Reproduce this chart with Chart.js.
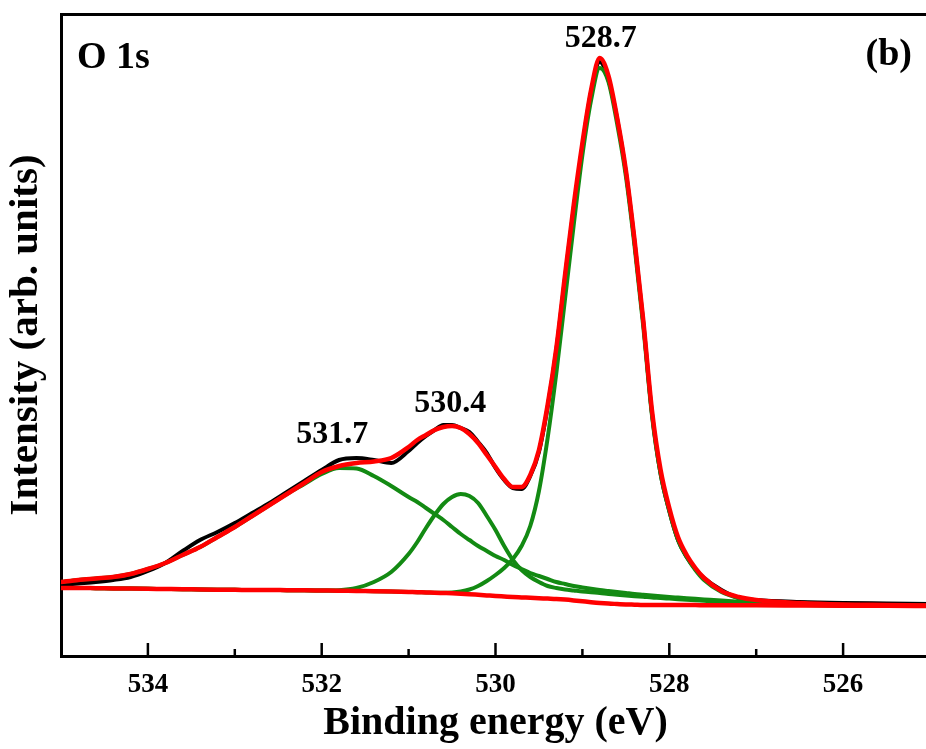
<!DOCTYPE html>
<html><head><meta charset="utf-8">
<script src="https://cdn.jsdelivr.net/npm/chart.js@4.4.1/dist/chart.umd.min.js"></script>
<style>html,body{margin:0;padding:0;background:#fff;overflow:hidden;width:926px;height:749px}canvas{display:block}</style>
</head><body><canvas id="c" width="932" height="749" style="width:932px;height:749px"></canvas>
<script>
// Binding energy grid (eV)
const energy = [535.0,534.8,534.6,534.4,534.2,534.0,533.8,533.6,533.4,533.2,533.0,532.8,532.6,532.4,532.2,532.0,531.8,531.6,531.4,531.2,531.0,530.9,530.8,530.7,530.6,530.5,530.4,530.3,530.2,530.1,530.0,529.9,529.8,529.7,529.6,529.5,529.4,529.3,529.2,529.1,529.0,528.9,528.8,528.7,528.6,528.5,528.4,528.3,528.2,528.1,528.0,527.9,527.8,527.7,527.6,527.4,527.2,527.0,526.5,526.0,525.5,525.0];
// Measured spectrum (black)
const rawCounts = [71,72.5,74,76,79,85,93,105,116,124,133,143,153,164,175,186,196,198,196,193,205,213,220,226,231,231,228,224,214,203,188,176,168,167,180,204,249,306,378,448,510,564,594,576,537,484,414,334,243,182,145,116,99,87,78,66,58,56,54,53,52.5,52];
// Fitted envelope (red)
const envelopeFit = [74,76,77.5,79,82,87,93,101,109,119,129,140,151,162,173,184,190,193,194.5,198,209,216,221,226,229,230,228,222,213,201,189,177,169,169,181,206,251,308,381,451,513,566,598,580,538,486,416,336,246,186,148,119,101,88,78,65,59,56,53,51.5,51,50.5];
// Background (red)
const backgroundFit = [68,68,67.8,67.6,67.4,67.2,67,66.8,66.5,66.3,66.2,66,66,65.8,65.7,65.5,65.3,65,64.8,64.5,64,63.8,63.5,63.3,63,62.7,62.3,61.8,61.2,60.6,60,59.5,59,58.6,58.2,57.8,57.4,57,56.4,55.6,54.7,53.8,53,52.4,52,51.6,51.3,51,51,51,51,51,50.9,50.9,50.8,50.8,50.7,50.7,50.5,50.3,50.2,50];
// Component 531.7 eV (green)
const peak5317 = [74,76,77.5,79,82,87,93,101,109,119,129,140,151,162,172,182,188,187.5,180,170,159,154,148,142,136,129,122,116,110,105,100,96,91,87,83,80,77,74,72,70,68.5,67.2,66,65,64,63,62,61.2,60.4,59.7,59,58.4,57.8,57.2,56.6,55.4,54.3,53.4,51.7,50.8,50.3,50];
// Component 530.4 eV (green)
const peak5304 = [68,68,67.8,67.6,67.4,67.2,67,66.8,66.5,66.3,66.2,66,66,65.8,65.7,65.5,65.8,68,74,84,102,114,128,141,152,159,162,160,153,140,126,110,96,86,79,74,70,68,66.5,65.5,64.5,63.7,63,62,61.2,60.5,59.8,59.2,58.5,58,57.4,56.8,56.3,55.7,55.2,54,53,52.2,51,50.5,50.2,50];
// Component 528.7 eV (green)
const peak5287 = [68,68,67.8,67.6,67.4,67.2,67,66.8,66.5,66.3,66.2,66,66,65.8,65.7,65.5,65.3,65,64.8,64.5,64,63.8,63.5,63.3,63.2,63.5,64.5,66.5,70,75,81,88,97,110,130,165,218,283,357,431,501,556,588,574,532,480,410,330,241,182,145,116,99,86,76,64,58,55,52.5,51.2,50.7,50.4];
const xTickValues = [526,528,530,532,534];
const minorTickValues = [527,529,531,533];
const peakLabels = ['531.7','530.4','528.7'];
const peakLabelX = [531.88,530.52,528.79];
const peakLabelY = [213,244,609];

const toXY = arr => arr.map((v,i)=>({x:energy[i], y:v}));
const RED = '#ff0000', GREEN = '#138a13', BLACK = '#000000';
Chart.defaults.font.family = '"Liberation Serif", "Times New Roman", serif';

const decor = {
  id:'decor',
  afterDraw(chart){
    const {ctx, chartArea, scales:{x,y}} = chart;
    ctx.save();
    ctx.strokeStyle = '#000'; ctx.lineWidth = 2.5;
    xTickValues.forEach(v=>{const p=x.getPixelForValue(v);ctx.beginPath();ctx.moveTo(p,chartArea.bottom);ctx.lineTo(p,chartArea.bottom-13);ctx.stroke();});
    minorTickValues.forEach(v=>{const p=x.getPixelForValue(v);ctx.beginPath();ctx.moveTo(p,chartArea.bottom);ctx.lineTo(p,chartArea.bottom-7);ctx.stroke();});
    ctx.fillStyle = '#000';
    ctx.textBaseline = 'alphabetic';
    ctx.font = 'bold 32px "Liberation Serif"';
    ctx.textAlign = 'center';
    peakLabels.forEach((t,i)=>ctx.fillText(t, x.getPixelForValue(peakLabelX[i]), y.getPixelForValue(peakLabelY[i])));
    ctx.font = 'bold 38px "Liberation Serif"';
    ctx.textAlign = 'left';
    ctx.fillText('O 1s', chartArea.left+16, chartArea.top+54);
    ctx.textAlign = 'right';
    ctx.fillText('(b)', chartArea.right-18, chartArea.top+51);
    ctx.restore();
  }
};

new Chart(document.getElementById('c'), {
  type:'line',
  data:{datasets:[
    {label:'Envelope', data:toXY(envelopeFit), borderColor:RED, borderWidth:4.5, order:0},
    {label:'Background', data:toXY(backgroundFit), borderColor:RED, borderWidth:4.5, order:1},
    {label:'531.7', data:toXY(peak5317), borderColor:GREEN, borderWidth:4, order:2},
    {label:'530.4', data:toXY(peak5304), borderColor:GREEN, borderWidth:4, order:3},
    {label:'528.7', data:toXY(peak5287), borderColor:GREEN, borderWidth:4, order:4},
    {label:'Raw', data:toXY(rawCounts), borderColor:BLACK, borderWidth:4, order:5}
  ]},
  options:{
    responsive:false, animation:false, devicePixelRatio:1,
    layout:{padding:{left:0,right:2,top:0,bottom:0}},
    elements:{point:{radius:0}, line:{cubicInterpolationMode:'monotone', fill:false, borderJoinStyle:'round', borderCapStyle:'round'}},
    plugins:{legend:{display:false}, tooltip:{enabled:false}},
    scales:{
      x:{type:'linear', position:'bottom', min:525, max:535, reverse:true,
        afterBuildTicks:s=>{s.ticks = xTickValues.map(v=>({value:v}));},
        afterFit:s=>{s.height=93;},
        grid:{display:false, drawTicks:false},
        border:{display:true, width:3, color:'#000'},
        ticks:{color:'#000', font:{size:27, weight:'bold'}, padding:13, maxRotation:0},
        title:{display:true, text:'Binding energy (eV)', color:'#000', font:{size:40, weight:'bold'}, padding:{top:0,bottom:1}}
      },
      xTop:{type:'linear', position:'top', min:525, max:535, reverse:true,
        afterFit:s=>{s.height=14;},
        grid:{display:false, drawTicks:false},
        border:{display:true, width:3, color:'#000'},
        ticks:{display:false}
      },
      y:{type:'linear', position:'left', min:0, max:642,
        afterFit:s=>{s.width=61;},
        grid:{display:false, drawTicks:false},
        border:{display:true, width:3, color:'#000'},
        ticks:{display:false},
        title:{display:true, text:'Intensity (arb. units)', color:'#000', font:{size:41, weight:'bold'}, padding:{top:2,bottom:0}}
      }
    }
  },
  plugins:[decor]
});
</script>
</body></html>
